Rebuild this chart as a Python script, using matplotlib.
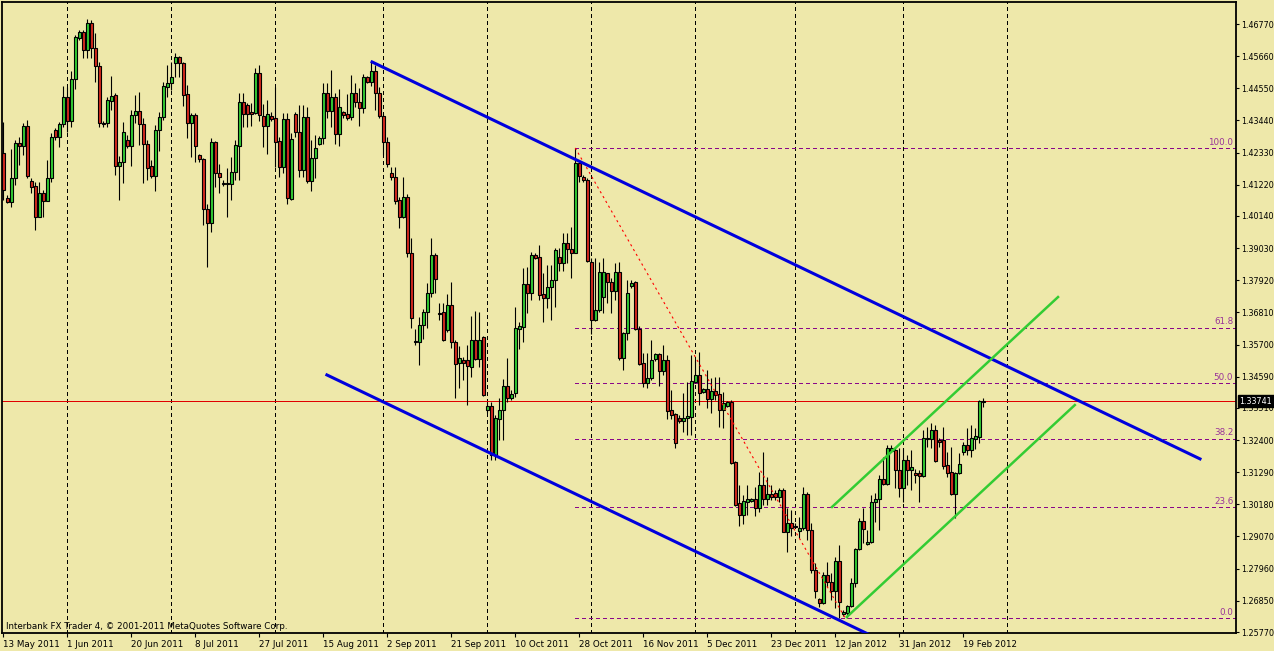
import numpy as np
import matplotlib
matplotlib.use("Agg")
import matplotlib.pyplot as plt
from matplotlib.transforms import blended_transform_factory

# daily EURUSD candles, 13 May 2011 .. 23 Feb 2012
opens = [
    1.4232, 1.4076, 1.4062, 1.4145, 1.4266, 1.4256, 1.4325, 1.4135, 1.4118, 1.4010,
    1.4093, 1.4066, 1.4145, 1.4311, 1.4287, 1.4332, 1.4425, 1.4342, 1.4487, 1.4629,
    1.4650, 1.4587, 1.4681, 1.4594, 1.4532, 1.4335, 1.4335, 1.4411, 1.4432, 1.4187,
    1.4200, 1.4276, 1.4256, 1.4363, 1.4377, 1.4332, 1.4263, 1.4187, 1.4152, 1.4311,
    1.4356, 1.4460, 1.4473, 1.4542, 1.4563, 1.4542, 1.4435, 1.4335, 1.4363, 1.4225,
    1.4211, 1.4038, 1.3990, 1.4270, 1.4162, 1.4128, 1.4124, 1.4124, 1.4166, 1.4256,
    1.4408, 1.4397, 1.4373, 1.4370, 1.4508, 1.4359, 1.4325, 1.4359, 1.4353, 1.4273,
    1.4183, 1.4349, 1.4073, 1.4366, 1.4304, 1.4173, 1.4356, 1.4135, 1.4214, 1.4263,
    1.4283, 1.4439, 1.4377, 1.4425, 1.4297, 1.4373, 1.4366, 1.4356, 1.4439, 1.4408,
    1.4387, 1.4494, 1.4477, 1.4515, 1.4439, 1.4359, 1.4270, 1.4162, 1.4149, 1.4069,
    1.4010, 1.4080, 1.3886, 1.3582, 1.3579, 1.3637, 1.3682, 1.3748, 1.3879, 1.3679,
    1.3682, 1.3620, 1.3707, 1.3579, 1.3506, 1.3517, 1.3517, 1.3493, 1.3586, 1.3520,
    1.3596, 1.3344, 1.3358, 1.3188, 1.3313, 1.3344, 1.3427, 1.3385, 1.3403, 1.3624,
    1.3631, 1.3779, 1.3748, 1.3879, 1.3872, 1.3745, 1.3731, 1.3769, 1.3793, 1.3872,
    1.3852, 1.3921, 1.3900, 1.3886, 1.4197, 1.4149, 1.4138, 1.3855, 1.3655, 1.3689,
    1.3734, 1.3817, 1.3786, 1.3755, 1.3821, 1.3524, 1.3610, 1.3772, 1.3786, 1.3624,
    1.3506, 1.3437, 1.3454, 1.3520, 1.3537, 1.3479, 1.3517, 1.3344, 1.3330, 1.3316,
    1.3306, 1.3316, 1.3320, 1.3441, 1.3465, 1.3406, 1.3417, 1.3382, 1.3410, 1.3399,
    1.3344, 1.3358, 1.3371, 1.3164, 1.3023, 1.2981, 1.3026, 1.3030, 1.3037, 1.3005,
    1.3085, 1.3037, 1.3054, 1.3058, 1.3044, 1.3068, 1.2922, 1.2954, 1.2943, 1.2926,
    1.2936, 1.3054, 1.2929, 1.2791, 1.2691, 1.2677, 1.2774, 1.2750, 1.2719, 1.2822,
    1.2639, 1.2643, 1.2667, 1.2746, 1.2864, 1.2960, 1.2881, 1.2888, 1.3026, 1.3037,
    1.3106, 1.3088, 1.3202, 1.3206, 1.3137, 1.3075, 1.3171, 1.3137, 1.3126, 1.3126,
    1.3116, 1.3244, 1.3244, 1.3275, 1.3240, 1.3240, 1.3154, 1.3130, 1.3054, 1.3126,
    1.3199, 1.3223, 1.3206, 1.3244, 1.3251, 1.3371,
]
highs = [
    1.4339, 1.4086, 1.4245, 1.4276, 1.4287, 1.4335, 1.4346, 1.4145, 1.4131, 1.4131,
    1.4104, 1.4207, 1.4301, 1.4318, 1.4339, 1.4463, 1.4460, 1.4515, 1.4639, 1.4656,
    1.4656, 1.4694, 1.4691, 1.4646, 1.4546, 1.4342, 1.4425, 1.4498, 1.4439, 1.4221,
    1.4339, 1.4294, 1.4380, 1.4432, 1.4442, 1.4353, 1.4276, 1.4207, 1.4328, 1.4373,
    1.4477, 1.4536, 1.4546, 1.4577, 1.4567, 1.4546, 1.4466, 1.4370, 1.4370, 1.4228,
    1.4214, 1.4055, 1.4283, 1.4273, 1.4194, 1.4138, 1.4180, 1.4218, 1.4276, 1.4439,
    1.4439, 1.4404, 1.4404, 1.4525, 1.4536, 1.4401, 1.4415, 1.4373, 1.4460, 1.4287,
    1.4370, 1.4370, 1.4301, 1.4373, 1.4397, 1.4397, 1.4390, 1.4276, 1.4294, 1.4290,
    1.4473, 1.4473, 1.4518, 1.4439, 1.4453, 1.4377, 1.4435, 1.4501, 1.4473, 1.4456,
    1.4504, 1.4498, 1.4546, 1.4536, 1.4460, 1.4370, 1.4287, 1.4183, 1.4183, 1.4080,
    1.4149, 1.4090, 1.3938, 1.3624, 1.3665, 1.3693, 1.3782, 1.3938, 1.3886, 1.3713,
    1.3713, 1.3745, 1.3786, 1.3586, 1.3565, 1.3527, 1.3568, 1.3669, 1.3686, 1.3682,
    1.3599, 1.3371, 1.3371, 1.3327, 1.3385, 1.3451, 1.3524, 1.3413, 1.3700, 1.3648,
    1.3834, 1.3838, 1.3890, 1.3886, 1.3914, 1.3817, 1.3845, 1.3845, 1.3904, 1.3904,
    1.3955, 1.3955, 1.3976, 1.4249, 1.4200, 1.4156, 1.4145, 1.3869, 1.3869, 1.3855,
    1.3869, 1.3817, 1.3800, 1.3852, 1.3855, 1.3613, 1.3793, 1.3793, 1.3789, 1.3634,
    1.3541, 1.3541, 1.3586, 1.3541, 1.3541, 1.3568, 1.3534, 1.3413, 1.3334, 1.3327,
    1.3403, 1.3441, 1.3534, 1.3517, 1.3544, 1.3420, 1.3482, 1.3454, 1.3458, 1.3458,
    1.3406, 1.3375, 1.3378, 1.3168, 1.3085, 1.3050, 1.3085, 1.3040, 1.3078, 1.3130,
    1.3199, 1.3113, 1.3085, 1.3068, 1.3075, 1.3075, 1.3005, 1.2998, 1.2954, 1.2974,
    1.3078, 1.3061, 1.2954, 1.2815, 1.2695, 1.2784, 1.2819, 1.2781, 1.2836, 1.2878,
    1.2653, 1.2670, 1.2764, 1.2867, 1.2971, 1.3005, 1.2929, 1.3050, 1.3058, 1.3120,
    1.3182, 1.3223, 1.3223, 1.3213, 1.3213, 1.3213, 1.3188, 1.3206, 1.3140, 1.3137,
    1.3275, 1.3285, 1.3299, 1.3292, 1.3247, 1.3285, 1.3199, 1.3216, 1.3130, 1.3195,
    1.3233, 1.3282, 1.3292, 1.3282, 1.3378, 1.3385,
]
lows = [
    1.4069, 1.4059, 1.4045, 1.4121, 1.4190, 1.4225, 1.4145, 1.4093, 1.3966, 1.4010,
    1.4010, 1.4066, 1.4131, 1.4276, 1.4252, 1.4321, 1.4304, 1.4321, 1.4453, 1.4622,
    1.4560, 1.4560, 1.4560, 1.4477, 1.4321, 1.4321, 1.4321, 1.4380, 1.4156, 1.4069,
    1.4128, 1.4249, 1.4187, 1.4335, 1.4259, 1.4128, 1.4138, 1.4145, 1.4100, 1.4238,
    1.4346, 1.4425, 1.4449, 1.4494, 1.4494, 1.4394, 1.4283, 1.4218, 1.4200, 1.4200,
    1.3983, 1.3838, 1.3959, 1.4114, 1.4093, 1.4118, 1.4010, 1.4069, 1.4138, 1.4138,
    1.4321, 1.4321, 1.4325, 1.4366, 1.4342, 1.4252, 1.4228, 1.4342, 1.4183, 1.4149,
    1.4162, 1.4055, 1.4069, 1.4287, 1.4149, 1.4149, 1.4128, 1.4100, 1.4145, 1.4259,
    1.4263, 1.4353, 1.4321, 1.4263, 1.4256, 1.4353, 1.4346, 1.4346, 1.4390, 1.4325,
    1.4370, 1.4473, 1.4463, 1.4380, 1.4353, 1.4225, 1.4183, 1.4138, 1.4055, 1.3973,
    1.4007, 1.3872, 1.3627, 1.3568, 1.3499, 1.3589, 1.3627, 1.3734, 1.3748, 1.3655,
    1.3582, 1.3613, 1.3558, 1.3385, 1.3420, 1.3447, 1.3361, 1.3458, 1.3517, 1.3493,
    1.3392, 1.3333, 1.3171, 1.3171, 1.3240, 1.3240, 1.3371, 1.3378, 1.3389, 1.3555,
    1.3579, 1.3679, 1.3724, 1.3865, 1.3724, 1.3648, 1.3696, 1.3655, 1.3700, 1.3824,
    1.3824, 1.3852, 1.3800, 1.3886, 1.4131, 1.4131, 1.3855, 1.3606, 1.3651, 1.3682,
    1.3679, 1.3713, 1.3679, 1.3724, 1.3517, 1.3482, 1.3586, 1.3765, 1.3620, 1.3499,
    1.3423, 1.3420, 1.3447, 1.3513, 1.3427, 1.3465, 1.3313, 1.3313, 1.3213, 1.3299,
    1.3268, 1.3257, 1.3257, 1.3437, 1.3361, 1.3403, 1.3351, 1.3334, 1.3378, 1.3285,
    1.3282, 1.3354, 1.3157, 1.3012, 1.2943, 1.2950, 1.2981, 1.3026, 1.2978, 1.2992,
    1.3016, 1.3016, 1.3033, 1.3033, 1.3026, 1.2922, 1.2853, 1.2909, 1.2936, 1.2902,
    1.2929, 1.2895, 1.2781, 1.2695, 1.2664, 1.2674, 1.2733, 1.2688, 1.2660, 1.2625,
    1.2632, 1.2625, 1.2664, 1.2733, 1.2860, 1.2885, 1.2878, 1.2885, 1.2957, 1.2929,
    1.3085, 1.3085, 1.3199, 1.3075, 1.3044, 1.3026, 1.3085, 1.3068, 1.3092, 1.3026,
    1.3112, 1.3216, 1.3213, 1.3164, 1.3216, 1.3140, 1.3112, 1.3050, 1.2971, 1.3123,
    1.3188, 1.3188, 1.3182, 1.3209, 1.3230, 1.3354,
]
closes = [
    1.4104, 1.4062, 1.4145, 1.4266, 1.4256, 1.4325, 1.4152, 1.4114, 1.4010, 1.4093,
    1.4066, 1.4145, 1.4287, 1.4287, 1.4332, 1.4425, 1.4342, 1.4487, 1.4632, 1.4650,
    1.4587, 1.4681, 1.4594, 1.4532, 1.4335, 1.4332, 1.4415, 1.4428, 1.4187, 1.4200,
    1.4304, 1.4256, 1.4363, 1.4377, 1.4332, 1.4263, 1.4180, 1.4152, 1.4311, 1.4356,
    1.4463, 1.4473, 1.4494, 1.4563, 1.4542, 1.4432, 1.4335, 1.4363, 1.4256, 1.4211,
    1.4038, 1.3990, 1.4270, 1.4162, 1.4149, 1.4124, 1.4128, 1.4166, 1.4259, 1.4408,
    1.4366, 1.4366, 1.4366, 1.4508, 1.4363, 1.4325, 1.4366, 1.4349, 1.4270, 1.4183,
    1.4349, 1.4076, 1.4280, 1.4304, 1.4173, 1.4356, 1.4135, 1.4214, 1.4249, 1.4283,
    1.4439, 1.4377, 1.4425, 1.4297, 1.4390, 1.4363, 1.4353, 1.4439, 1.4408, 1.4387,
    1.4494, 1.4477, 1.4515, 1.4439, 1.4359, 1.4270, 1.4194, 1.4149, 1.4066, 1.4010,
    1.4080, 1.3886, 1.3662, 1.3579, 1.3637, 1.3682, 1.3748, 1.3879, 1.3796, 1.3675,
    1.3586, 1.3707, 1.3579, 1.3503, 1.3524, 1.3506, 1.3496, 1.3586, 1.3520, 1.3586,
    1.3396, 1.3358, 1.3188, 1.3316, 1.3344, 1.3427, 1.3385, 1.3399, 1.3627, 1.3634,
    1.3779, 1.3748, 1.3879, 1.3869, 1.3741, 1.3731, 1.3769, 1.3793, 1.3897, 1.3852,
    1.3921, 1.3900, 1.3886, 1.4197, 1.4152, 1.4138, 1.3859, 1.3655, 1.3689, 1.3821,
    1.3821, 1.3786, 1.3755, 1.3821, 1.3524, 1.3610, 1.3748, 1.3782, 1.3624, 1.3503,
    1.3437, 1.3454, 1.3517, 1.3537, 1.3479, 1.3517, 1.3340, 1.3327, 1.3230, 1.3306,
    1.3316, 1.3323, 1.3444, 1.3465, 1.3403, 1.3417, 1.3382, 1.3410, 1.3396, 1.3344,
    1.3368, 1.3371, 1.3161, 1.3016, 1.2981, 1.3030, 1.3037, 1.3037, 1.3005, 1.3085,
    1.3037, 1.3054, 1.3044, 1.3044, 1.3068, 1.2922, 1.2954, 1.2936, 1.2940, 1.2936,
    1.3054, 1.2929, 1.2791, 1.2719, 1.2677, 1.2774, 1.2750, 1.2719, 1.2822, 1.2681,
    1.2646, 1.2667, 1.2746, 1.2864, 1.2960, 1.2933, 1.2888, 1.3026, 1.3037, 1.3106,
    1.3088, 1.3213, 1.3213, 1.3137, 1.3075, 1.3171, 1.3137, 1.3147, 1.3119, 1.3116,
    1.3247, 1.3247, 1.3275, 1.3168, 1.3233, 1.3150, 1.3126, 1.3054, 1.3126, 1.3157,
    1.3223, 1.3206, 1.3247, 1.3254, 1.3375, 1.3374,
]

date_labels = ["13 May 2011", "1 Jun 2011", "20 Jun 2011", "8 Jul 2011", "27 Jul 2011",
               "15 Aug 2011", "2 Sep 2011", "21 Sep 2011", "10 Oct 2011", "28 Oct 2011",
               "16 Nov 2011", "5 Dec 2011", "23 Dec 2011", "12 Jan 2012", "31 Jan 2012",
               "19 Feb 2012"]
date_label_bars = [0, 16, 32, 48, 64, 80, 96, 112, 128, 144, 160, 176, 192, 208, 224, 240]
month_start_bars = [16, 42, 68, 95, 121, 147, 173, 198, 225, 251]

price_ticks = [1.46770, 1.45660, 1.44550, 1.43440, 1.42330, 1.41220, 1.40140, 1.39030,
               1.37920, 1.36810, 1.35700, 1.34590, 1.33510, 1.32400, 1.31290, 1.30180,
               1.29070, 1.27960, 1.26850, 1.25770]
last_price = 1.33741

# fibonacci retracement (high of 27 Oct -> low of 13 Jan)
fib_levels = [0.0, 23.6, 38.2, 50.0, 61.8, 100.0]
fib_start_bar, fib_high = 143, 1.4249
fib_end_bar, fib_low = 210.5, 1.2625

# drawn trend lines: (bar, price) anchors
blue_upper = ([92.2, 299.2], [1.4546, 1.3175])
blue_lower = ([80.9, 220.0], [1.3465, 1.2545])
green_upper = ([207.2, 263.7], [1.3009, 1.3734])
green_lower = ([210.9, 267.9], [1.2629, 1.3361])

BG = "#EEE8AA"
BULL = "#33CC33"
BEAR = "#D42A1E"
FIB = "#8A088A"

plt.rcParams["font.family"] = ["DejaVu Sans"]

fig = plt.figure(figsize=(12.74, 6.51), dpi=100, facecolor=BG)
ax = fig.add_axes([2 / 1274, 1 - 633 / 651, 1234 / 1274, 631 / 651], facecolor=BG)

xmin, xmax = -0.33, 308.2
ymin, ymax = 1.25736, 1.47531
ax.set_xlim(xmin, xmax)
ax.set_ylim(ymin, ymax)

o = np.array(opens)
h = np.array(highs)
l = np.array(lows)
c = np.array(closes)
x = np.arange(len(o))
up = c >= o

# month separators
for b in month_start_bars:
    ax.axvline(b, color="black", lw=0.72, ls=(0, (4, 3)), antialiased=False, zorder=1)

# fibo levels
for r in fib_levels:
    p = fib_low + r / 100.0 * (fib_high - fib_low)
    ax.axhline(p, xmin=(fib_start_bar - xmin) / (xmax - xmin), xmax=1,
               color=FIB, lw=0.72, ls=(0, (4, 3)), antialiased=False, zorder=2)
    ax.annotate(f"{r:.1f}", xy=(1, p),
                xycoords=blended_transform_factory(ax.transAxes, ax.transData),
                xytext=(-2, 1), textcoords="offset points",
                ha="right", va="bottom", color="#993399", fontsize=6.3)

ax.plot([fib_start_bar, fib_end_bar], [fib_high, fib_low], color="#FF0000",
        lw=0.8, ls=(0, (2, 3)), zorder=5)

# current price line
ax.axhline(last_price, color="#E00000", lw=0.72, antialiased=False, zorder=2)

# candles
ax.vlines(x, l, h, color="black", lw=0.8, zorder=3)
ax.bar(x, np.maximum(np.abs(c - o), 0.0003), bottom=np.minimum(o, c), width=0.75,
       color=np.where(up, BULL, BEAR), edgecolor="black", linewidth=0.8, zorder=4)

# trend lines
ax.plot(*blue_upper, color="#0000DD", lw=2.2, zorder=6)
ax.plot(*blue_lower, color="#0000DD", lw=2.2, zorder=6)
ax.plot(*green_upper, color=BULL, lw=1.8, zorder=6)
ax.plot(*green_lower, color=BULL, lw=1.8, zorder=6)

# axes
ax.yaxis.tick_right()
ax.set_yticks(price_ticks)
ax.set_yticklabels([f"{p:.5f}" for p in price_ticks])
ax.set_xticks(date_label_bars)
ax.set_xticklabels(date_labels, ha="left")
ax.tick_params(axis="y", direction="out", length=2.5, width=0.8, pad=1,
               labelsize=5.8, colors="black")
ax.tick_params(axis="x", direction="out", length=3, width=0.8, pad=2,
               labelsize=6.3, colors="black")
for s in ax.spines.values():
    s.set_linewidth(1.3)
    s.set_color("black")

ax.annotate(f"{last_price:.5f}", xy=(1, last_price),
            xycoords=blended_transform_factory(ax.transAxes, ax.transData),
            xytext=(2.5, 0), textcoords="offset points", ha="left", va="center",
            color="white", fontsize=5.8, annotation_clip=False, zorder=10,
            bbox=dict(boxstyle="square,pad=0.2", fc="black", ec="black"))

fig.text(6 / 1274, 1 - 629 / 651, "Interbank FX Trader 4, \u00a9 2001-2011 MetaQuotes Software Corp.",
         fontsize=6.3, color="black", va="baseline", ha="left")

fig.savefig("out.png", dpi=100, facecolor=BG)
